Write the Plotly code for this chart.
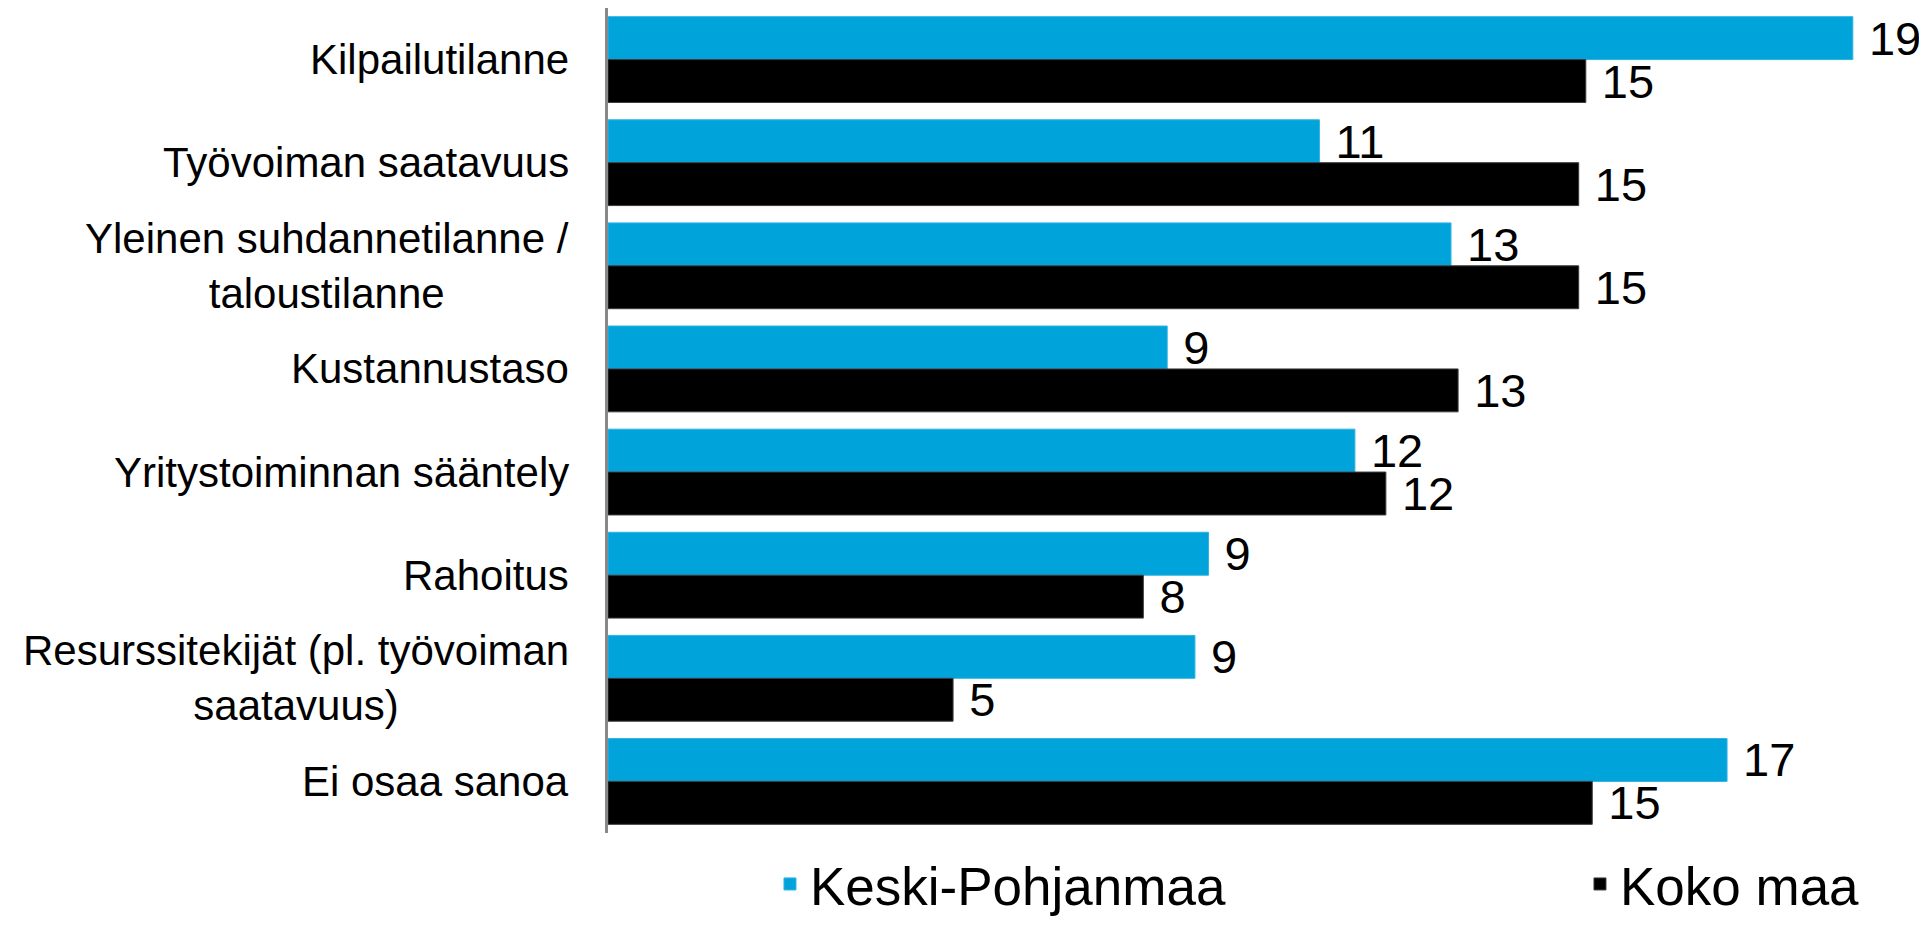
import plotly.graph_objects as go

categories = [
    "Kilpailutilanne",
    "Työvoiman saatavuus",
    "Yleinen suhdannetilanne /<br>taloustilanne",
    "Kustannustaso",
    "Yritystoiminnan sääntely",
    "Rahoitus",
    "Resurssitekijät (pl. työvoiman<br>saatavuus)",
    "Ei osaa sanoa",
]
keski_pohjanmaa = [19.3, 11.03, 13.07, 8.67, 11.58, 9.31, 9.10, 17.35]
koko_maa = [15.16, 15.05, 15.05, 13.18, 12.06, 8.30, 5.35, 15.26]
series_names = ["Keski-Pohjanmaa", "Koko maa"]
series_colors = ["#00A3DA", "#000000"]

FONT = "Liberation Sans, Arial, sans-serif"

fig = go.Figure()
for name, vals, col, lcol, leg in [
    (series_names[0], keski_pohjanmaa, series_colors[0], "#2fb3e3", "legend"),
    (series_names[1], koko_maa, series_colors[1], "#3c3c3c", "legend2"),
]:
    fig.add_trace(go.Bar(
        y=categories, x=vals, name=name, orientation="h",
        marker=dict(color=col, line=dict(color=lcol, width=1)),
        texttemplate=" %{x:.0f}", textposition="outside",
        constraintext="none", cliponaxis=False,
        textfont=dict(family=FONT, size=47, color="#000000"),
        hoverinfo="x+y", legend=leg,
    ))

for c in categories:
    fig.add_annotation(
        x=0, xref="paper", y=c, yref="y", text=c, showarrow=False,
        xanchor="right", yanchor="middle", align="center", xshift=-37,
        font=dict(family=FONT, size=42, color="#000000"),
    )

legend_common = dict(
    orientation="h", xanchor="left", yref="container", y=0.0447,
    yanchor="middle", font=dict(family=FONT, size=53, color="#000000"),
    itemclick=False, itemdoubleclick=False, bgcolor="rgba(0,0,0,0)",
)

# the page body adds an 8 px offset, so the figure is 8 px smaller
fig.update_layout(
    width=1919, height=917,
    margin=dict(l=600, r=0, t=0, b=92),
    paper_bgcolor="white", plot_bgcolor="white",
    barmode="group", bargap=0.168, bargroupgap=0,
    font=dict(family=FONT, color="#000000"),
    showlegend=True,
    legend=dict(x=0.1228, **legend_common),
    legend2=dict(x=0.7369, **legend_common),
    xaxis=dict(range=[0, 20.45], showgrid=False, zeroline=False,
               showticklabels=False, showline=False, ticks=""),
    yaxis=dict(autorange="reversed", showgrid=False, zeroline=False,
               showticklabels=False, showline=True, linecolor="#898989",
               linewidth=3, ticks=""),
)

fig.write_html("out.html")
